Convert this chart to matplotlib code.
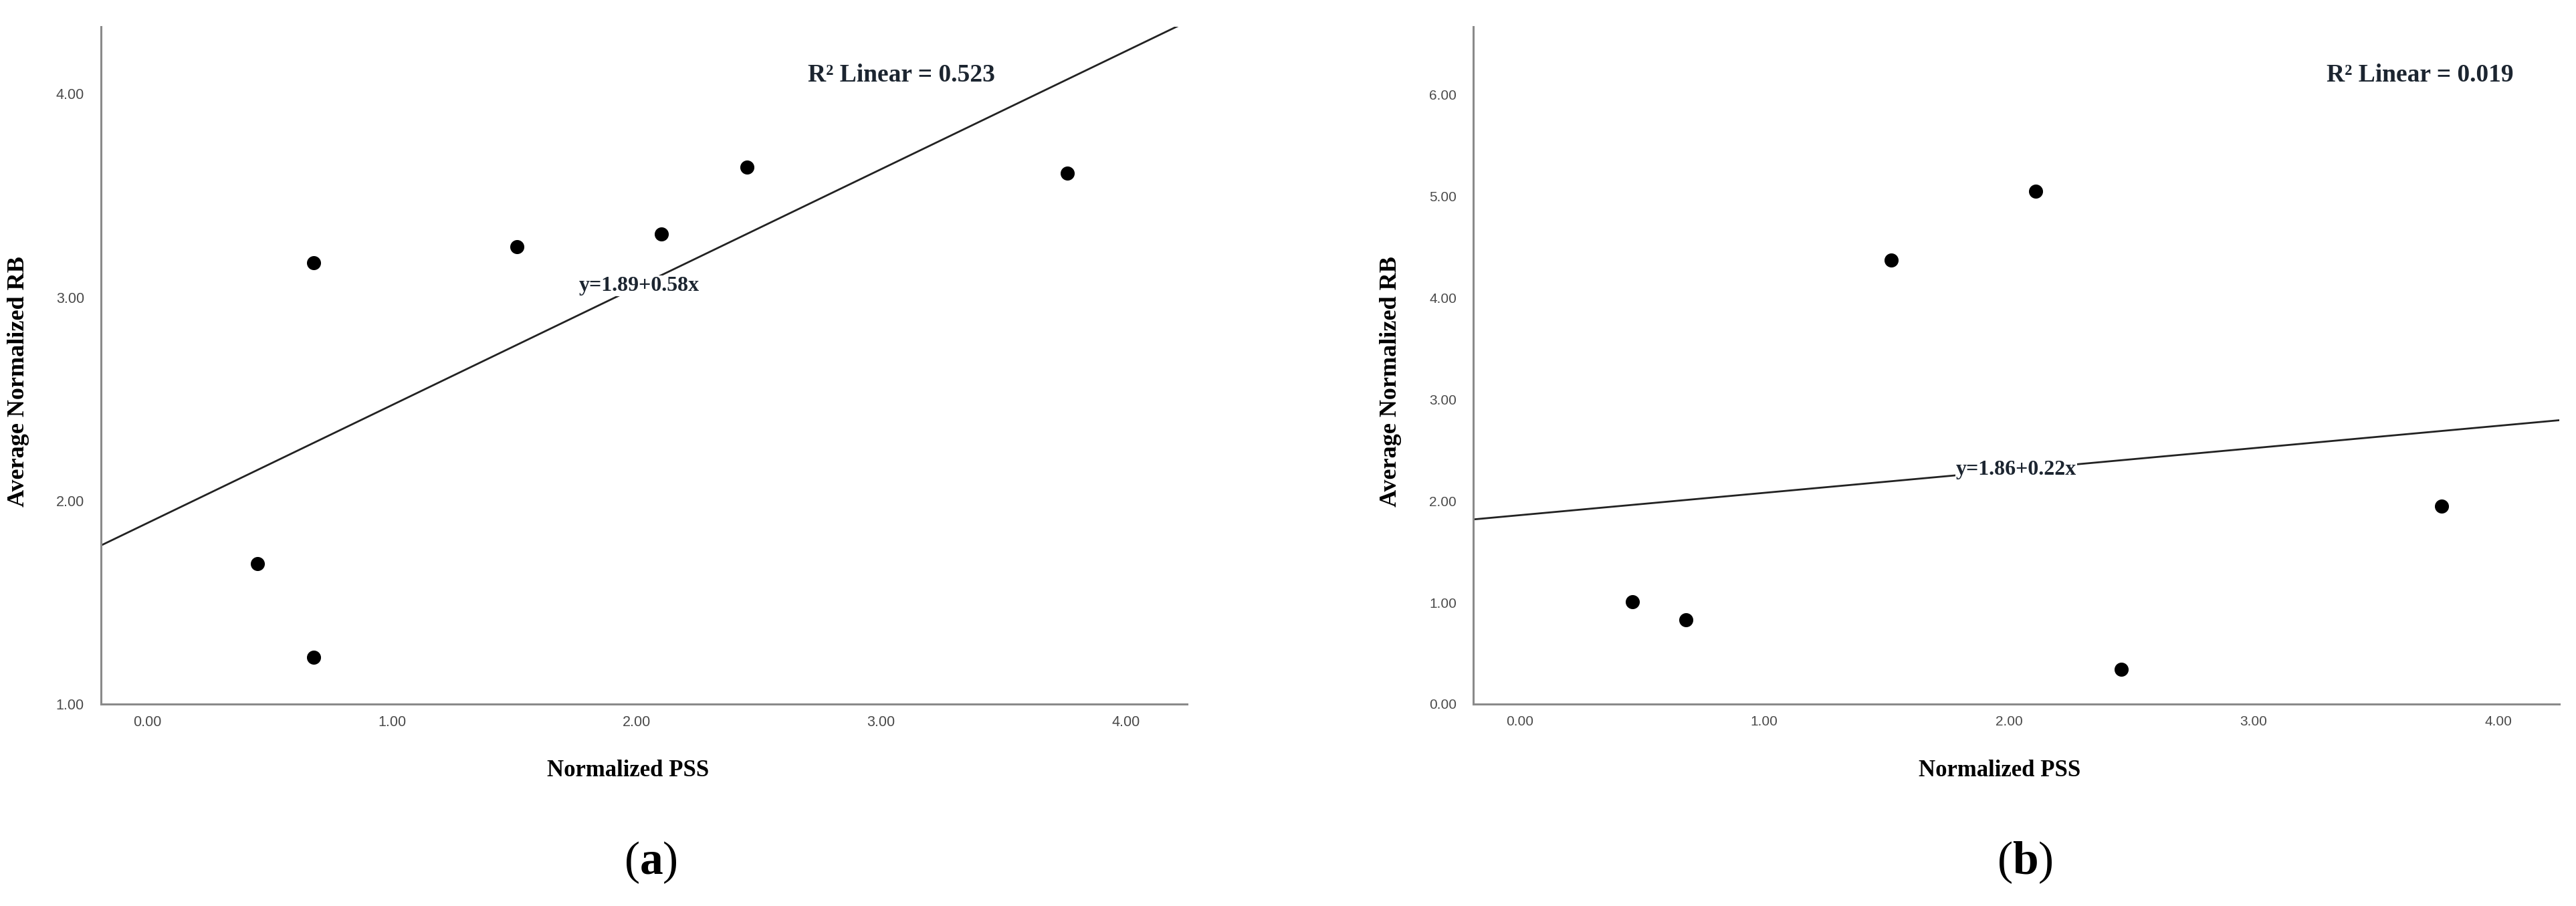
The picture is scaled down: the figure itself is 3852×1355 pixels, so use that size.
import matplotlib
matplotlib.use("Agg")
import matplotlib.pyplot as plt
import numpy as np

# --------------------------------------
# Data
# --------------------------------------
pss_a = [0.45, 0.68, 0.68, 1.51, 2.10, 2.45, 3.76]
rb_a = [1.69, 1.23, 3.17, 3.25, 3.31, 3.64, 3.61]
fit_a = (1.89, 0.58)          # intercept, slope
r2_a = 0.523

pss_b = [0.46, 0.68, 1.52, 2.11, 2.46, 3.77]
rb_b = [1.01, 0.83, 4.37, 5.05, 0.34, 1.95]
fit_b = (1.86, 0.22)
r2_b = 0.019

xticks = [0, 1, 2, 3, 4]
yticks_a = [1, 2, 3, 4]
yticks_b = [0, 1, 2, 3, 4, 5, 6]

# --------------------------------------
# Style
# --------------------------------------
plt.rcParams['mathtext.fontset'] = 'custom'
plt.rcParams['mathtext.rm'] = 'Liberation Serif'
plt.rcParams['mathtext.bf'] = 'Liberation Serif:bold'

serif = 'Liberation Serif'
tick_font = ['Liberation Sans Narrow', 'Liberation Sans', 'DejaVu Sans']
spine_col = '#8a8a8a'
tick_col = '#4a4a4a'
text_col = '#1c2530'

fig = plt.figure(figsize=(38.52, 13.55), dpi=100)
ax_a = fig.add_axes([0.0392, 0.2229, 0.4216, 0.7476])
ax_b = fig.add_axes([0.5719, 0.2229, 0.4216, 0.7476])


def draw_panel(ax, xs, ys, fit, r2, yticks, ylim, eq_x, r2_pos, tick_size):
    xlim = (-0.19, 4.25)
    ax.scatter(xs, ys, s=200, color='black', zorder=3)

    # regression line across the whole x range
    xl = np.array(xlim)
    ax.plot(xl, fit[0] + fit[1] * xl, color='#222222', linewidth=2.0, zorder=2)

    eq = "y=%.2f+%.2fx" % fit
    ax.text(eq_x, fit[0] + fit[1] * eq_x, eq, fontsize=23, family=serif,
            fontweight='bold', color=text_col, ha='center', va='center',
            bbox=dict(facecolor='white', edgecolor='none', pad=1), zorder=4)
    ax.text(r2_pos[0], r2_pos[1], "R² Linear = %.3f" % r2, fontsize=27,
            family=serif, fontweight='bold', color=text_col,
            ha='left', va='center')

    ax.set_xlim(*xlim)
    ax.set_ylim(*ylim)
    ax.set_xticks(xticks)
    ax.set_yticks(yticks)
    ax.set_xticklabels(["%.2f" % v for v in xticks])
    ax.set_yticklabels(["%.2f" % v for v in yticks])
    ax.tick_params(length=0, colors=tick_col, labelsize=tick_size)
    ax.tick_params(axis='y', pad=18)
    ax.tick_params(axis='x', pad=12)
    for lab in ax.get_xticklabels() + ax.get_yticklabels():
        lab.set_family(tick_font)

    for side in ['top', 'right']:
        ax.spines[side].set_visible(False)
    for side in ['left', 'bottom']:
        ax.spines[side].set_color(spine_col)
        ax.spines[side].set_linewidth(2.2)

    ax.set_xlabel("Normalized PSS", fontsize=25, family=serif, fontweight='bold')
    ax.set_ylabel("Average Normalized RB", fontsize=26, family=serif, fontweight='bold')
    ax.xaxis.set_label_coords(0.485, -0.082)
    ax.yaxis.set_label_coords(-0.066, 0.476)


draw_panel(ax_a, pss_a, rb_a, fit_a, r2_a, yticks_a, (1.0, 4.33),
           eq_x=2.01, r2_pos=(2.70, 4.09), tick_size=15.5)
draw_panel(ax_b, pss_b, rb_b, fit_b, r2_b, yticks_b, (0.0, 6.67),
           eq_x=2.03, r2_pos=(3.30, 6.19), tick_size=15)

# panel captions
fig.text(0.2526, 0.048, r"($\mathbf{a}$)", fontsize=50, family=serif,
         ha='center', va='center')
fig.text(0.7860, 0.048, r"($\mathbf{b}$)", fontsize=50, family=serif,
         ha='center', va='center')

fig.savefig("out.png", dpi=100, facecolor='white')
